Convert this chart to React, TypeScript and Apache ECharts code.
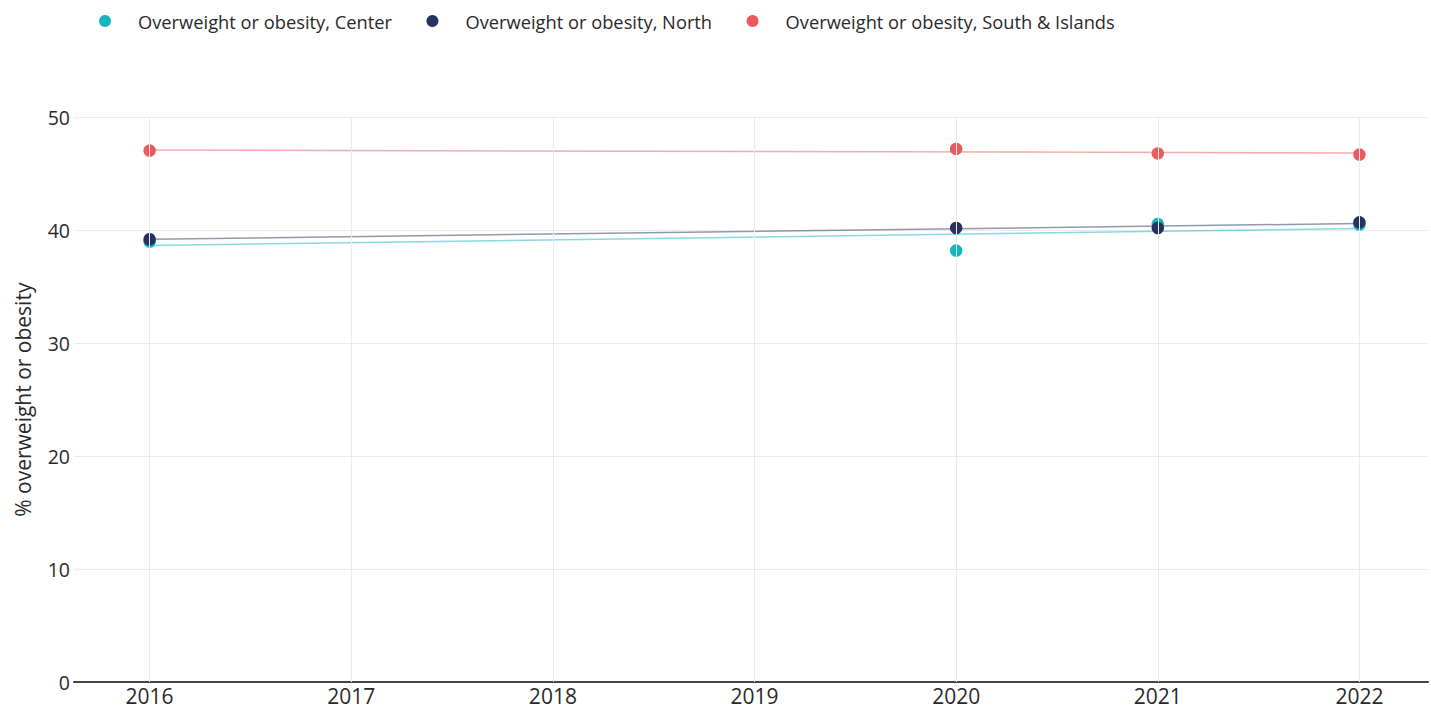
import React, { useEffect, useRef } from "react";
import * as echarts from "echarts";

const years = [2016, 2020, 2021, 2022];
const centerValues = [39.0, 38.2, 40.55, 40.5];
const northValues = [39.2, 40.2, 40.2, 40.7];
const southValues = [47.05, 47.2, 46.8, 46.7];

const trendYears = [2016, 2022];
const centerTrend = [38.65, 40.15];
const northTrend = [39.2, 40.6];
const southTrend = [47.1, 46.85];

const gridYears = [2016, 2017, 2018, 2019, 2020, 2021, 2022];
const seriesNames = [
  "Overweight or obesity, Center",
  "Overweight or obesity, North",
  "Overweight or obesity, South & Islands",
];
const colors = ["#13b5bf", "#27325e", "#eb5a5e"];
const trendColors = ["rgba(19,181,191,0.5)", "rgba(39,50,94,0.5)", "rgba(235,90,94,0.5)"];

const FONT = "Open Sans";

export default function App() {
  const ref = useRef<HTMLDivElement>(null);
  useEffect(() => {
    if (!ref.current) return;
    const chart = echarts.init(ref.current, null, { renderer: "svg" });
    const pts = (vals: number[]) => years.map((y, i) => [y, vals[i]]);
    const trend = (vals: number[]) => trendYears.map((y, i) => [y, vals[i]]);
    const allVals = [centerValues, northValues, southValues];
    const allTrends = [centerTrend, northTrend, southTrend];
    const series: any[] = [
      {
        name: "grid",
        type: "line",
        data: [],
        silent: true,
        markLine: {
          silent: true,
          symbol: "none",
          label: { show: false },
          lineStyle: { color: "#ebebeb", type: "solid", width: 1 },
          data: gridYears.map((y) => ({ xAxis: y })),
        },
      },
    ];
    allTrends.forEach((t, i) => {
      series.push({
        name: seriesNames[i] + " trend",
        type: "line",
        data: trend(t),
        symbol: "none",
        silent: true,
        lineStyle: { color: trendColors[i], width: 1.5 },
        z: 3,
      });
    });
    allVals.forEach((v, i) => {
      series.push({
        name: seriesNames[i],
        type: "scatter",
        data: pts(v),
        symbolSize: 12.5,
        itemStyle: { color: colors[i], opacity: 1 },
        z: 4,
      });
    });
    chart.setOption({
      animation: false,
      textStyle: { fontFamily: FONT },
      legend: {
        data: seriesNames.map((n, i) => ({ name: n, icon: "circle", itemStyle: { color: colors[i] } })),
        left: 94,
        top: 7,
        itemWidth: 56,
        itemHeight: 12,
        itemGap: 34.5,
        textStyle: { fontFamily: FONT, fontSize: 18.3, color: "#2a2a2a" },
      },
      grid: { left: 74, right: 0, top: 117.3, bottom: 23.3 },
      xAxis: {
        type: "value",
        min: 2015.625,
        max: 2022.34,
        minInterval: 1,
        maxInterval: 1,
        splitLine: { show: false },
        axisTick: { show: false },
        axisLine: { show: true, lineStyle: { color: "#444", width: 2 } },
        axisLabel: {
          fontFamily: FONT,
          fontSize: 21,
          color: "#2a2a2a",
          margin: 3,
          showMinLabel: true,
          showMaxLabel: true,
          formatter: (v: number) => (Number.isInteger(v) ? String(v) : ""),
        },
      },
      yAxis: {
        type: "value",
        min: 0,
        max: 50,
        interval: 10,
        name: "% overweight or obesity",
        nameLocation: "middle",
        nameGap: 41,
        nameTextStyle: { fontFamily: FONT, fontSize: 21, color: "#2a2a2a" },
        axisLine: { show: false },
        axisTick: { show: false },
        splitLine: { lineStyle: { color: "#ebebeb", width: 1 } },
        axisLabel: { fontFamily: FONT, fontSize: 19.5, color: "#2a2a2a", margin: 4 },
      },
      series,
    });
    return () => chart.dispose();
  }, []);
  return (
    <div
      ref={ref}
      style={{ position: "absolute", left: 0, top: 0, width: 1431, height: 706, background: "#fff" }}
    />
  );
}
